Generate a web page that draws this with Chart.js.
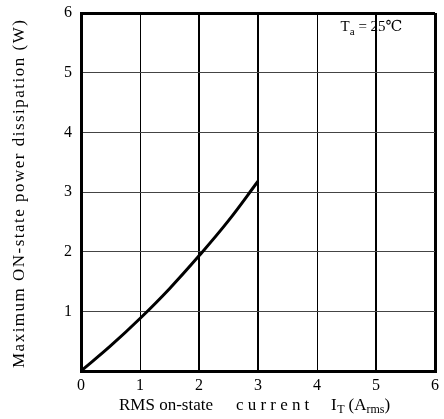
<!DOCTYPE html>
<html><head><meta charset="utf-8">
<script src="https://cdn.jsdelivr.net/npm/chart.js@4/dist/chart.umd.min.js"></script>
<style>html,body{margin:0;padding:0;background:#fff}canvas{display:block}</style>
</head><body>
<canvas id="c" width="444" height="419"></canvas>
<script>
// Data
const currentA = [0, 0.5, 1, 1.5, 2, 2.5, 3];
const powerW   = [0, 0.42, 0.88, 1.38, 1.93, 2.52, 3.18];
const xTicks = [0, 1, 2, 3, 4, 5, 6];
const yTicks = [1, 2, 3, 4, 5, 6];
const yTitle = 'Maximum ON-state power dissipation (W)';
const annotation = {base: 'T', sub: 'a', rest: ' = 25℃'};

const SERIF = '"Liberation Serif", "DejaVu Serif", serif';

const textPlugin = {
  id: 'texts',
  afterDraw(chart) {
    const ctx = chart.ctx;
    const xs = chart.scales.x, ys = chart.scales.y;
    ctx.save();
    ctx.fillStyle = '#000';
    // Y axis title (rotated), stretched to target length
    ctx.save();
    ctx.font = '17px ' + SERIF;
    const cy = 194;
    ctx.translate(20, cy);
    ctx.rotate(-Math.PI / 2);
    const w0 = ctx.measureText(yTitle).width;
    const target = 348;
    const ls = (target - w0) / (yTitle.length - 1);
    ctx.letterSpacing = ls.toFixed(2) + 'px';
    ctx.textAlign = 'left';
    ctx.textBaseline = 'middle';
    ctx.fillText(yTitle, -target / 2, 0);
    ctx.restore();

    // X axis title with spaced word and subscripts
    const by = 410;
    ctx.textBaseline = 'alphabetic';
    ctx.textAlign = 'left';
    ctx.font = '17px ' + SERIF;
    ctx.letterSpacing = '0px';
    ctx.fillText('RMS on-state', 119, by);
    ctx.letterSpacing = '4.2px';
    ctx.fillText('current', 236, by);
    ctx.letterSpacing = '0px';
    let x = 331;
    ctx.fillText('I', x, by); x += ctx.measureText('I').width + 0.5;
    ctx.font = '12px ' + SERIF;
    ctx.fillText('T', x, by + 3); x += ctx.measureText('T').width + 4;
    ctx.font = '17px ' + SERIF;
    ctx.fillText('(A', x, by); x += ctx.measureText('(A').width;
    ctx.font = '12px ' + SERIF;
    ctx.fillText('rms', x, by + 3); x += ctx.measureText('rms').width;
    ctx.font = '17px ' + SERIF;
    ctx.fillText(')', x, by);

    // Annotation T_a = 25℃
    let ax = xs.getPixelForValue(4.4);
    const ay = ys.getPixelForValue(5.7);
    ctx.font = '15px ' + SERIF;
    ctx.fillText(annotation.base, ax, ay); ax += ctx.measureText(annotation.base).width;
    ctx.font = '11px ' + SERIF;
    ctx.fillText(annotation.sub, ax, ay + 4); ax += ctx.measureText(annotation.sub).width;
    ctx.font = '15px ' + SERIF;
    ctx.fillText(annotation.rest, ax, ay);
    ctx.restore();
  }
};

new Chart(document.getElementById('c'), {
  type: 'line',
  data: {
    datasets: [{
      data: currentA.map((v, i) => ({x: v, y: powerW[i]})),
      borderColor: '#000',
      borderWidth: 3,
      pointRadius: 0,
      tension: 0.4,
      fill: false
    }]
  },
  options: {
    responsive: false,
    animation: false,
    layout: {padding: {left: 0, right: 9, top: 13, bottom: 0}},
    plugins: {legend: {display: false}, tooltip: {enabled: false}},
    scales: {
      x: {
        type: 'linear', min: 0, max: 6,
        afterBuildTicks: s => { s.ticks = xTicks.map(v => ({value: v})); },
        afterFit: s => { s.height = 48; s.paddingLeft = 0; s.paddingRight = 0; },
        ticks: {color: '#000', padding: 5, font: {family: SERIF, size: 16}},
        grid: {
          drawTicks: false,
          color: '#000',
          lineWidth: c => (c.tick.value === 0 || c.tick.value === 6) ? 3 : (c.tick.value === 2 || c.tick.value === 3 || c.tick.value === 5) ? 2 : 1
        },
        border: {color: '#000', width: 3}
      },
      y: {
        type: 'linear', min: 0, max: 6,
        afterBuildTicks: s => { s.ticks = [0].concat(yTicks).map(v => ({value: v})); },
        afterFit: s => { s.width = 81; s.paddingTop = 0; s.paddingBottom = 0; },
        ticks: {color: '#000', padding: 9, font: {family: SERIF, size: 16},
          callback: v => v === 0 ? '' : String(v)},
        grid: {
          drawTicks: false,
          color: c => (c.tick.value === 0 || c.tick.value === 6) ? '#000' : '#444',
          lineWidth: c => (c.tick.value === 0 || c.tick.value === 6) ? 3 : 1
        },
        border: {color: '#000', width: 3}
      }
    }
  },
  plugins: [textPlugin]
});
</script>
</body></html>
